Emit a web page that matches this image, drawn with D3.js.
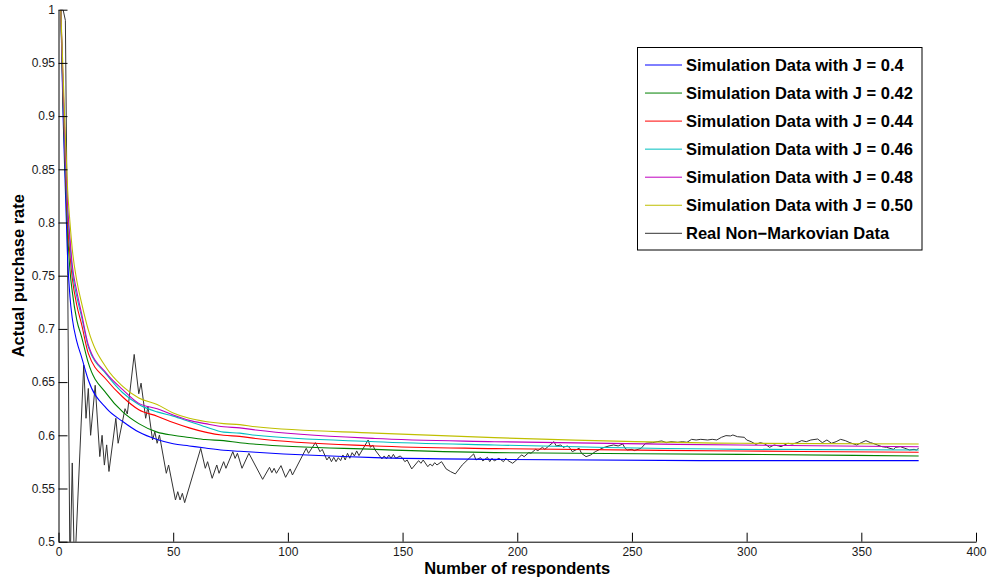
<!DOCTYPE html>
<html>
<head>
<meta charset="utf-8">
<script src="https://cdn.jsdelivr.net/npm/d3@7"></script>
<style>
  html, body { margin: 0; padding: 0; background: #fff; }
  svg { display: block; font-family: "Liberation Sans", Arial, Helvetica, sans-serif; }
</style>
</head>
<body>
<svg id="chart" width="991" height="581"></svg>
<script>
// ---------- data ----------
const xTicks = [0, 50, 100, 150, 200, 250, 300, 350, 400];
const xTickLabels = ["0", "50", "100", "150", "200", "250", "300", "350", "400"];
const yTicks = [0.5, 0.55, 0.6, 0.65, 0.7, 0.75, 0.8, 0.85, 0.9, 0.95, 1];
const yTickLabels = ["0.5", "0.55", "0.6", "0.65", "0.7", "0.75", "0.8", "0.85", "0.9", "0.95", "1"];

const seriesNames = [
  "Simulation Data with J = 0.4",
  "Simulation Data with J = 0.42",
  "Simulation Data with J = 0.44",
  "Simulation Data with J = 0.46",
  "Simulation Data with J = 0.48",
  "Simulation Data with J = 0.50",
  "Real Non\u2212Markovian Data"
];
const seriesColors = ["#0000ff", "#008000", "#ff0000", "#00bfbf", "#bf00bf", "#bfbf00", "#333333"];

// respondents count at which simulation curves were read
const simN = [1, 2, 3, 4, 5, 6, 8, 10, 13, 21, 28, 35, 43, 50, 57, 64, 72, 79, 86, 138, 190, 297, 375];
const simJ040 = [1, 0.90, 0.83, 0.765, 0.73, 0.71, 0.688, 0.674, 0.652, 0.625, 0.613, 0.603, 0.596, 0.592, 0.590, 0.588, 0.586, 0.585, 0.584, 0.579, 0.5774, 0.5762, 0.5762];
const simJ042 = [1, 0.91, 0.845, 0.79, 0.755, 0.735, 0.708, 0.693, 0.668, 0.639, 0.622, 0.611, 0.603, 0.600, 0.598, 0.596, 0.595, 0.593, 0.5916, 0.5868, 0.5837, 0.5821, 0.5806];
const simJ044 = [1, 0.92, 0.855, 0.80, 0.77, 0.748, 0.722, 0.705, 0.677, 0.652, 0.636, 0.624, 0.618, 0.612, 0.607, 0.603, 0.600, 0.599, 0.597, 0.590, 0.5875, 0.5853, 0.5840];
const simJ046 = [1, 0.925, 0.86, 0.81, 0.78, 0.755, 0.73, 0.712, 0.683, 0.657, 0.640, 0.629, 0.622, 0.618, 0.613, 0.608, 0.603, 0.602, 0.600, 0.594, 0.5909, 0.5868, 0.5862];
const simJ048 = [1, 0.93, 0.865, 0.815, 0.785, 0.76, 0.735, 0.715, 0.685, 0.658, 0.643, 0.630, 0.625, 0.619, 0.614, 0.611, 0.608, 0.607, 0.605, 0.597, 0.594, 0.5909, 0.5893];
const simJ050 = [1, 0.94, 0.88, 0.83, 0.80, 0.775, 0.745, 0.725, 0.699, 0.663, 0.646, 0.635, 0.629, 0.621, 0.616, 0.613, 0.611, 0.610, 0.608, 0.602, 0.5978, 0.5925, 0.5918];

// real data: respondents count and purchase rate
const realN = [1, 2, 3, 4, 5, 6, 7, 11, 12, 13, 14, 16, 18, 19, 20, 21, 22, 25, 26, 29, 30, 33, 35, 36, 38, 39, 41, 42, 43, 44, 47, 48, 51, 52, 53, 54, 55, 62, 64, 65, 67, 69, 70, 72, 73, 76, 77, 78, 80, 83,
  89, 92, 93, 94, 95, 97, 99, 101, 102, 108, 109, 112, 114, 115, 117, 118, 119, 120, 121, 122, 123, 124, 125, 126, 127, 128, 129, 130, 131, 135, 136, 137, 138, 141, 142, 143, 144, 145, 146, 147, 149, 150, 151, 152, 154, 157, 158, 159, 161, 162, 163, 164, 165, 167, 169, 171, 173, 176, 181, 182, 184, 185, 187, 188, 189, 190,
  192, 194, 195, 196, 198, 200, 201, 202, 203, 205, 206, 208, 209, 211, 212, 216, 217, 219, 220, 222, 223, 224, 227, 228, 230, 232, 234, 236, 238, 240, 242, 244, 246, 247, 248, 250, 251, 254, 256, 259, 261, 263, 265, 267, 270, 272, 274, 276, 278, 280, 283, 285, 287, 289, 291,
  293, 294, 296, 299, 300, 302, 304, 306, 308, 310, 312, 314, 315, 318, 320, 322, 324, 326, 328, 331, 333, 335, 337, 339, 341, 343, 345, 348, 350, 352, 354, 355, 357, 359, 361, 364, 365, 367, 369, 371, 373, 374, 375];
const realRate = [1, 1, 0.99, 0.75, 0.47, 0.574, 0.47, 0.666, 0.616, 0.644, 0.600, 0.647, 0.580, 0.600, 0.572, 0.591, 0.566, 0.616, 0.5925, 0.625, 0.62, 0.676, 0.639, 0.649, 0.616, 0.627, 0.5956, 0.6034, 0.5925, 0.6003, 0.5643, 0.5721, 0.5392, 0.547, 0.5392, 0.5455, 0.5367, 0.5877, 0.569, 0.5752, 0.5596, 0.5721, 0.5643, 0.5752, 0.569, 0.5846, 0.5783, 0.5831, 0.569, 0.5831,
  0.5586, 0.5699, 0.5649, 0.569, 0.5643, 0.5715, 0.5605, 0.5684, 0.5627, 0.5878, 0.5831, 0.5931, 0.5846, 0.5868, 0.5768, 0.5799, 0.5752, 0.5793, 0.5752, 0.579, 0.5762, 0.5815, 0.5768, 0.5831, 0.5784, 0.5837, 0.5806, 0.5853, 0.5809, 0.5956, 0.5887, 0.5909, 0.5862, 0.5778, 0.5806, 0.5778, 0.5815, 0.5784, 0.5821, 0.5784, 0.5806, 0.5784, 0.5752, 0.5768, 0.5684, 0.5762, 0.5737, 0.5768, 0.5705, 0.573, 0.5712, 0.5743, 0.5721, 0.5752, 0.5684, 0.5658, 0.5637, 0.5721, 0.5825, 0.5768, 0.579, 0.5759, 0.5793, 0.5752, 0.5784, 0.5759,
  0.5784, 0.5752, 0.5784, 0.5762, 0.5737, 0.5774, 0.5799, 0.5815, 0.5799, 0.5837, 0.5831, 0.5868, 0.5856, 0.5887, 0.5868, 0.594, 0.59, 0.5909, 0.5887, 0.59, 0.5878, 0.5846, 0.5878, 0.5831, 0.5799, 0.5815, 0.5846, 0.5868, 0.5887, 0.59, 0.5909, 0.59, 0.5918, 0.5878, 0.5862, 0.5868, 0.5856, 0.5878, 0.5925, 0.5931, 0.594, 0.5947, 0.5931, 0.594, 0.5934, 0.594, 0.5934, 0.5962, 0.5956, 0.5962, 0.5956, 0.5962, 0.5956, 0.5981, 0.5997,
  0.5994, 0.6003, 0.5987, 0.5981, 0.5956, 0.594, 0.5915, 0.5931, 0.5918, 0.5887, 0.5909, 0.59, 0.5893, 0.5925, 0.5918, 0.5931, 0.595, 0.594, 0.5956, 0.5965, 0.5931, 0.5956, 0.5925, 0.594, 0.5962, 0.595, 0.5931, 0.5909, 0.5931, 0.595, 0.5931, 0.5925, 0.5909, 0.5893, 0.5887, 0.5868, 0.5887, 0.5893, 0.5878, 0.5862, 0.5868, 0.5862, 0.5878];

const xLabel = "Number of respondents";
const yLabel = "Actual purchase rate";

// ---------- drawing ----------
const svg = d3.select("#chart");
const pLeft = 58.5, pRight = 976, pTop = 9.7, pBottom = 541.7;
const x = d3.scaleLinear().domain([0, 400]).range([pLeft, pRight]);
const y = d3.scaleLinear().domain([0.5, 1]).range([pBottom, pTop]);

svg.append("defs").append("clipPath").attr("id", "plotclip")
  .append("rect").attr("x", pLeft).attr("y", pTop).attr("width", pRight - pLeft).attr("height", pBottom - pTop);

const simSeries = [simJ040, simJ042, simJ044, simJ046, simJ048, simJ050];
const line = d3.line().x(d => x(d[0])).y(d => y(d[1]));
const smooth = d3.line().x(d => x(d[0])).y(d => y(d[1])).curve(d3.curveMonotoneX);

const plot = svg.append("g").attr("clip-path", "url(#plotclip)");

plot.append("path")
  .datum(d3.zip(realN, realRate))
  .attr("d", line)
  .attr("fill", "none")
  .attr("stroke", seriesColors[6])
  .attr("stroke-width", 1);

simSeries.forEach((vals, i) => {
  plot.append("path")
    .datum(d3.zip(simN, vals))
    .attr("d", smooth)
    .attr("fill", "none")
    .attr("stroke", seriesColors[i])
    .attr("stroke-width", 1.1);
});

// axes
const xAxis = d3.axisBottom(x).tickValues(xTicks).tickFormat((d, i) => xTickLabels[i])
  .tickSizeInner(-9).tickSizeOuter(0).tickPadding(6);
const yAxis = d3.axisLeft(y).tickValues(yTicks).tickFormat((d, i) => yTickLabels[i])
  .tickSizeInner(-9).tickSizeOuter(0).tickPadding(3.5);

const gx = svg.append("g").attr("transform", `translate(0,${pBottom})`).call(xAxis);
const gy = svg.append("g").attr("transform", `translate(${pLeft},0)`).call(yAxis);
[gx, gy].forEach(g => {
  g.select(".domain").attr("stroke", "#000").attr("stroke-width", 1);
  g.selectAll(".tick line").attr("stroke", "#000").attr("stroke-width", 1);
  g.selectAll(".tick text").attr("fill", "#1a1a1a").style("font-size", "12px")
    .style("font-family", "'Liberation Sans', Arial, sans-serif");
});

// axis labels
svg.append("text")
  .attr("x", (pLeft + pRight) / 2).attr("y", 574)
  .attr("text-anchor", "middle")
  .style("font-size", "16.5px").style("font-weight", "bold").attr("fill", "#000")
  .text(xLabel);
svg.append("text")
  .attr("transform", `translate(24,${(pTop + pBottom) / 2}) rotate(-90)`)
  .attr("text-anchor", "middle")
  .style("font-size", "16.5px").style("font-weight", "bold").attr("fill", "#000")
  .text(yLabel);

// legend
const lg = svg.append("g");
lg.append("rect").attr("x", 637.5).attr("y", 47.5).attr("width", 284.5).attr("height", 202.5)
  .attr("fill", "#fff").attr("stroke", "#000").attr("stroke-width", 1);
seriesNames.forEach((name, i) => {
  const cy = 65 + i * 28.05;
  lg.append("line").attr("x1", 645).attr("x2", 682).attr("y1", cy).attr("y2", cy)
    .attr("stroke", seriesColors[i]).attr("stroke-width", 1);
  lg.append("text").attr("x", 686).attr("y", cy).attr("dy", "0.36em")
    .style("font-size", "16.5px").style("font-weight", "bold").attr("fill", "#000")
    .text(name);
});
</script>
</body>
</html>
